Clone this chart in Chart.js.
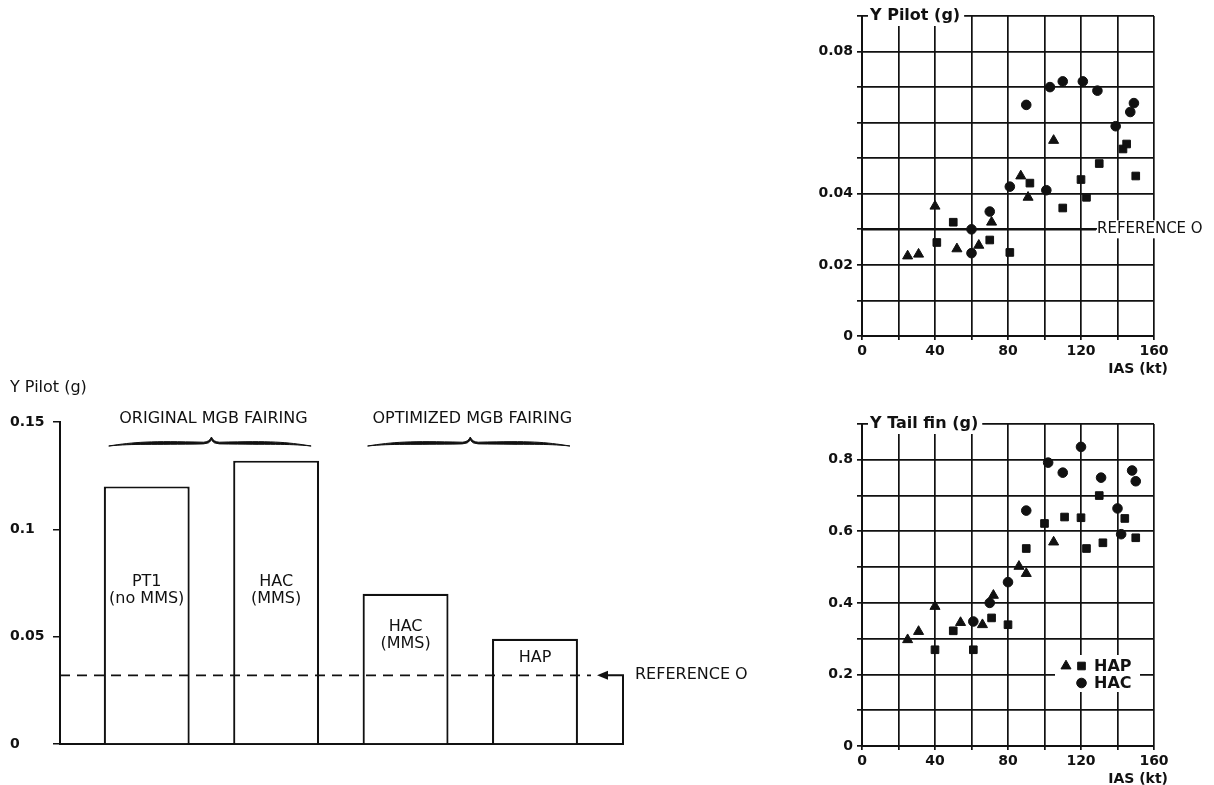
<!DOCTYPE html>
<html><head><meta charset="utf-8">
<script src="https://cdn.jsdelivr.net/npm/chart.js@4.4.0/dist/chart.umd.min.js"></script>
<style>
html,body{margin:0;padding:0;background:#fff;}
#wrap{position:relative;width:1214px;height:785px;overflow:hidden;background:#fff;}
canvas{position:absolute;}
</style></head><body>
<div id="wrap">
<canvas id="barChart" style="left:0px;top:370px;width:800px;height:415px" width="800" height="415"></canvas>
<canvas id="topChart" style="left:790px;top:0px;width:424px;height:390px" width="424" height="390"></canvas>
<canvas id="botChart" style="left:790px;top:400px;width:424px;height:385px" width="424" height="385"></canvas>
</div>
<script>
// ---------------- DATA ----------------
// Bar chart (left)
const barCategories = ['PT1 (no MMS)', 'HAC (MMS)', 'HAC (MMS)', 'HAP'];
const barLabelLines = [['PT1', '(no MMS)'], ['HAC', '(MMS)'], ['HAC', '(MMS)'], ['HAP']];
const barValues = [0.12, 0.132, 0.07, 0.049];
const barGroupNames = ['ORIGINAL MGB FAIRING', 'OPTIMIZED MGB FAIRING'];
const barGroupOf = [0, 0, 1, 1];
const barReference = 0.032;
const barYTickValues = [0, 0.05, 0.1, 0.15];
const barYTickLabels = ['0', '0.05', '0.1', '0.15'];
const barAxisTitle = 'Y Pilot (g)';
const referenceText = 'REFERENCE O';

// Top scatter: Y Pilot (g) vs IAS (kt)
const topHacIAS = [60, 60, 70, 81, 90, 101, 103, 110, 121, 129, 139, 147, 149];
const topHacG   = [0.0233, 0.030, 0.035, 0.042, 0.065, 0.041, 0.070, 0.0716, 0.0716, 0.069, 0.059, 0.063, 0.0655];
const topHapTriIAS = [25, 31, 40, 52, 64, 71, 87, 91, 105];
const topHapTriG   = [0.0225, 0.023, 0.0365, 0.0245, 0.0255, 0.032, 0.045, 0.039, 0.055];
const topHapSqIAS = [41, 50, 70, 81, 92, 110, 120, 123, 130, 143, 145, 150];
const topHapSqG   = [0.0263, 0.032, 0.027, 0.0235, 0.043, 0.036, 0.044, 0.039, 0.0485, 0.0526, 0.054, 0.045];
const topReference = 0.03;
const topYTickValues = [0, 0.02, 0.04, 0.08];
const topYTickLabels = ['0', '0.02', '0.04', '0.08'];
const topTitle = 'Y Pilot (g)';

// Bottom scatter: Y Tail fin (g) vs IAS (kt)
const botHacIAS = [61, 70, 80, 90, 102, 110, 120, 131, 140, 142, 148, 150];
const botHacG   = [0.348, 0.40, 0.458, 0.658, 0.792, 0.764, 0.836, 0.75, 0.664, 0.592, 0.77, 0.74];
const botHapTriIAS = [25, 31, 40, 54, 66, 72, 86, 90, 105];
const botHapTriG   = [0.297, 0.32, 0.39, 0.345, 0.339, 0.421, 0.502, 0.482, 0.57];
const botHapSqIAS = [40, 50, 61, 71, 80, 90, 100, 111, 120, 123, 130, 132, 144, 150];
const botHapSqG   = [0.269, 0.322, 0.269, 0.358, 0.339, 0.552, 0.622, 0.64, 0.638, 0.552, 0.70, 0.568, 0.636, 0.582];
const botYTickValues = [0, 0.2, 0.4, 0.6, 0.8];
const botYTickLabels = ['0', '0.2', '0.4', '0.6', '0.8'];
const botTitle = 'Y Tail fin (g)';

const xTickValues = [0, 40, 80, 120, 160];
const xTickLabels = ['0', '40', '80', '120', '160'];
const xAxisTitle = 'IAS (kt)';

// ---------------- STYLE ----------------
const F = "'DejaVu Sans', sans-serif";
const INK = '#111';
Chart.defaults.font.family = F;
Chart.defaults.color = INK;

function pts(xs, ys) { return xs.map((x, i) => ({ x: x, y: ys[i] })); }
function near(a, b) { return Math.abs(a - b) < 1e-6; }
function labelFor(vals, labels, v) {
  const i = vals.findIndex(t => near(t, v));
  return i >= 0 ? labels[i] : '';
}
const barIndex = barCategories.map((c, i) => i + 1);

// ---------------- BAR CHART ----------------
const barDecor = {
  id: 'barDecor',
  afterDraw(chart) {
    const { ctx, chartArea: ca, scales: { y } } = chart;
    const meta = chart.getDatasetMeta(0);
    ctx.save();
    ctx.fillStyle = INK; ctx.strokeStyle = INK;
    // axis title
    ctx.font = '16px ' + F; ctx.textAlign = 'left'; ctx.textBaseline = 'middle';
    ctx.fillText(barAxisTitle, 10, ca.top - 34);
    // labels in bars
    ctx.textAlign = 'center';
    meta.data.forEach((bar, i) => {
      const lines = barLabelLines[i];
      const y0 = Math.max(y.getPixelForValue(0.0755), bar.y + (lines.length > 1 ? 33 : 19));
      lines.forEach((t, k) => ctx.fillText(t, bar.x, y0 + k * 17));
    });
    // group labels + braces
    barGroupNames.forEach((name, g) => {
      let l = Infinity, r = -Infinity;
      meta.data.forEach((bar, i) => {
        if (barGroupOf[i] !== g) return;
        l = Math.min(l, bar.x - bar.width / 2);
        r = Math.max(r, bar.x + bar.width / 2);
      });
      const xm = (l + r) / 2;
      ctx.font = '16px ' + F; ctx.textAlign = 'center';
      ctx.fillText(name, xm + 2, ca.top - 3);
      const bl = l + 5, br = r - 8, yb = ca.top + 21;
      ctx.beginPath();
      ctx.moveTo(bl, yb + 3);
      ctx.bezierCurveTo(bl + 25, yb - 1, xm - 60, yb - 2.2, xm - 8, yb - 0.8);
      ctx.quadraticCurveTo(xm - 2, yb - 1, xm, yb - 6);
      ctx.quadraticCurveTo(xm + 2, yb - 1, xm + 8, yb - 0.8);
      ctx.bezierCurveTo(xm + 60, yb - 2.2, br - 25, yb - 1, br, yb + 3);
      ctx.bezierCurveTo(br - 25, yb + 0.5, xm + 60, yb + 1.8, xm + 8, yb + 0.9);
      ctx.quadraticCurveTo(xm + 2, yb + 0.8, xm, yb - 3);
      ctx.quadraticCurveTo(xm - 2, yb + 0.8, xm - 8, yb + 0.9);
      ctx.bezierCurveTo(xm - 60, yb + 1.8, bl + 25, yb + 0.5, bl, yb + 3);
      ctx.closePath();
      ctx.fill();
      ctx.lineWidth = 1; ctx.stroke();
    });
    // dashed reference line
    const yr = y.getPixelForValue(barReference);
    ctx.lineWidth = 1.8; ctx.lineCap = 'butt';
    ctx.setLineDash([10, 7]);
    ctx.beginPath(); ctx.moveTo(ca.left, yr); ctx.lineTo(ca.right - 32, yr); ctx.stroke();
    ctx.setLineDash([]);
    // arrow + bracket
    const tip = ca.right - 26;
    ctx.beginPath(); ctx.moveTo(tip, yr); ctx.lineTo(tip + 11, yr - 4.5); ctx.lineTo(tip + 11, yr + 4.5); ctx.closePath(); ctx.fill();
    ctx.lineWidth = 2;
    ctx.beginPath(); ctx.moveTo(tip + 10, yr); ctx.lineTo(ca.right, yr); ctx.lineTo(ca.right, ca.bottom); ctx.stroke();
    ctx.font = '16px ' + F; ctx.textAlign = 'left';
    ctx.fillText(referenceText, ca.right + 12, yr);
    ctx.restore();
  }
};

new Chart(document.getElementById('barChart'), {
  type: 'bar',
  data: {
    datasets: [{
      label: 'Y Pilot',
      data: barValues.map((v, i) => ({ x: barIndex[i], y: v })),
      backgroundColor: '#fff', borderColor: INK, borderWidth: 2.2, borderSkipped: 'start',
      barPercentage: 0.664, categoryPercentage: 1
    }]
  },
  options: {
    responsive: false, animation: false,
    layout: { padding: { left: 10, top: 52, right: 177, bottom: 41 } },
    plugins: { legend: { display: false }, tooltip: { enabled: false } },
    scales: {
      x: {
        type: 'linear', min: 0.33, max: 4.68, offset: false,
        afterBuildTicks: s => { s.ticks = barIndex.map(v => ({ value: v })); },
        ticks: { display: false },
        grid: { display: false },
        border: { display: true, color: INK, width: 2 },
        afterFit: s => { s.height = 0; }
      },
      y: {
        min: 0, max: 0.15,
        afterBuildTicks: s => { s.ticks = barYTickValues.map(v => ({ value: v })); },
        ticks: { crossAlign: 'far', padding: 4, autoSkip: false, color: INK,
                 font: { family: F, size: 14, weight: 'bold' },
                 callback: v => labelFor(barYTickValues, barYTickLabels, v) },
        grid: { drawOnChartArea: false, tickLength: 7, color: INK, lineWidth: 1.5 },
        border: { color: INK, width: 2 },
        afterFit: s => { s.width = 50; }
      }
    }
  },
  plugins: [barDecor]
});

// ---------------- SCATTER CHARTS ----------------
function scatterDatasets(triX, triY, sqX, sqY, hacX, hacY) {
  return [
    { label: 'HAP', data: pts(triX, triY), pointStyle: 'triangle', pointRadius: 5.8, backgroundColor: INK, borderColor: INK, borderWidth: 1, showLine: false },
    { label: 'HAP', data: pts(sqX, sqY), pointStyle: 'rect', pointRadius: 5.4, backgroundColor: INK, borderColor: INK, borderWidth: 1, showLine: false },
    { label: 'HAC', data: pts(hacX, hacY), pointStyle: 'circle', pointRadius: 4.8, backgroundColor: INK, borderColor: INK, borderWidth: 1, showLine: false }
  ];
}

function drawBoxTitle(chart, text) {
  const { ctx, chartArea: ca } = chart;
  ctx.save();
  ctx.font = 'bold 16px ' + F;
  const w = ctx.measureText(text).width;
  ctx.fillStyle = '#fff';
  ctx.fillRect(ca.left + 6, ca.top - 10, w + 6, 20);
  ctx.fillStyle = INK; ctx.textAlign = 'left'; ctx.textBaseline = 'middle';
  ctx.fillText(text, ca.left + 8, ca.top);
  // x axis title
  ctx.font = 'bold 14px ' + F; ctx.textAlign = 'right';
  ctx.fillText(xAxisTitle, ca.right + 14, ca.bottom + 33);
  ctx.restore();
}

function scatterOptions(cfg) {
  return {
    responsive: false, animation: false,
    layout: { padding: { left: 0, right: 60, top: cfg.padTop, bottom: 0 } },
    plugins: { legend: { display: false }, tooltip: { enabled: false } },
    scales: {
      x: {
        type: 'linear', min: 0, max: 160,
        ticks: { stepSize: 20, autoSkip: false, maxRotation: 0, padding: 3, color: INK,
                 font: { family: F, size: 14, weight: 'bold' },
                 callback: v => labelFor(xTickValues, xTickLabels, v) },
        grid: { color: INK, lineWidth: 1.7, tickLength: 4 },
        border: { color: INK, width: 2 },
        afterFit: s => { s.height = cfg.xH; }
      },
      y: {
        type: 'linear', min: 0, max: cfg.yMax,
        ticks: { stepSize: cfg.yStep, autoSkip: false, padding: 4, color: INK,
                 font: { family: F, size: 14, weight: 'bold' },
                 callback: v => labelFor(cfg.yVals, cfg.yLabels, v) },
        grid: { color: INK, lineWidth: 1.7, tickLength: 5 },
        border: { color: INK, width: 2 },
        afterFit: s => { s.width = 72; }
      }
    }
  };
}

const topDecor = {
  id: 'topDecor',
  afterDatasetsDraw(chart) {
    const { ctx, chartArea: ca, scales: { y } } = chart;
    const yr = y.getPixelForValue(topReference);
    const xe = ca.right - 58;
    ctx.save();
    ctx.strokeStyle = INK; ctx.lineWidth = 2.4;
    ctx.beginPath(); ctx.moveTo(ca.left, yr); ctx.lineTo(xe, yr); ctx.stroke();
    ctx.fillStyle = '#fff';
    ctx.font = '15px ' + F;
    const w = ctx.measureText(referenceText).width;
    ctx.fillRect(xe + 1, yr - 9, w + 3, 18);
    ctx.fillStyle = INK; ctx.textAlign = 'left'; ctx.textBaseline = 'middle';
    ctx.fillText(referenceText, xe + 1, yr);
    ctx.restore();
  },
  afterDraw(chart) { drawBoxTitle(chart, topTitle); }
};

const botDecor = {
  id: 'botDecor',
  afterDraw(chart) {
    drawBoxTitle(chart, botTitle);
    const { ctx, chartArea: ca } = chart;
    const ds = chart.data.datasets;
    ctx.save();
    ctx.fillStyle = '#fff';
    ctx.fillRect(ca.right - 99, ca.bottom - 91, 85, 37);
    ctx.fillStyle = INK; ctx.strokeStyle = INK;
    const r1 = ca.bottom - 80, r2 = ca.bottom - 63;
    const drawP = (d, x, yy) => Chart.helpers.drawPoint(ctx, { pointStyle: d.pointStyle, radius: d.pointRadius, rotation: 0, borderWidth: 1 }, x, yy);
    drawP(ds[0], ca.right - 88, r1);
    drawP(ds[1], ca.right - 72.5, r1);
    drawP(ds[2], ca.right - 72.5, r2);
    ctx.font = 'bold 16px ' + F; ctx.textAlign = 'left'; ctx.textBaseline = 'middle';
    ctx.fillText(ds[0].label, ca.right - 60, r1 + 1);
    ctx.fillText(ds[2].label, ca.right - 60, r2 + 1);
    ctx.restore();
  }
};

new Chart(document.getElementById('topChart'), {
  type: 'scatter',
  data: { datasets: scatterDatasets(topHapTriIAS, topHapTriG, topHapSqIAS, topHapSqG, topHacIAS, topHacG) },
  options: scatterOptions({ padTop: 16, xH: 54, yMax: 0.09, yStep: 0.01, yVals: topYTickValues, yLabels: topYTickLabels }),
  plugins: [topDecor]
});

new Chart(document.getElementById('botChart'), {
  type: 'scatter',
  data: { datasets: scatterDatasets(botHapTriIAS, botHapTriG, botHapSqIAS, botHapSqG, botHacIAS, botHacG) },
  options: scatterOptions({ padTop: 24, xH: 39, yMax: 0.9, yStep: 0.1, yVals: botYTickValues, yLabels: botYTickLabels }),
  plugins: [botDecor]
});
</script>
</body></html>
